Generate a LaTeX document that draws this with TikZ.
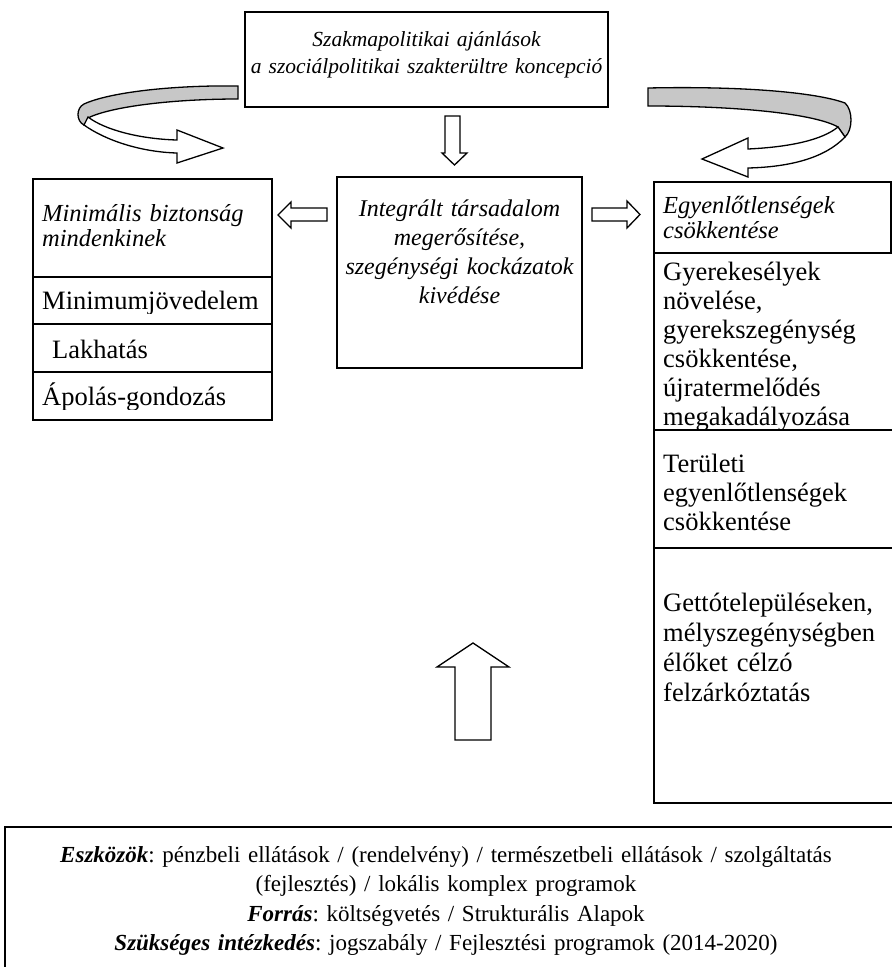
\documentclass[tikz,border=0pt]{standalone}
\usepackage{fontspec}
\setmainfont{Liberation Serif}
\usetikzlibrary{positioning}
\frenchspacing
\begin{document}
\begin{tikzpicture}[x=1pt, y=-1pt, line join=miter,
  frame/.style={draw, line width=1.4pt},
  cell text/.style={inner sep=0pt, anchor=base west, align=left, font=\fontsize{26.5}{26}\selectfont},
  head text/.style={cell text, font=\fontsize{24.5}{25}\selectfont\itshape},
  centre text/.style={inner sep=0pt, anchor=base, align=center, font=\fontsize{24}{29}\selectfont\itshape},
  block arrow/.style={draw, line width=1.3pt, fill=white},
  back side/.style={draw, line width=1.3pt, fill=black!22}]
\useasboundingbox (0,0) rectangle (892,967);

% frames
\draw[frame] (245,12) rectangle (608,107);
\draw[frame] (337,177) rectangle (582,368);
\draw[frame] (33,179) rectangle (272,420);
\foreach \y in {277,324,372} \draw[frame] (33,\y) -- (272,\y);
\draw[frame] (654,182) rectangle (891,253);
\draw[frame] (654,253) -- (654,803) -- (892,803);
\foreach \y in {430,548} \draw[frame] (654,\y) -- (892,\y);
\draw[frame] (892,827) -- (5,827) -- (5,967);

% texts
\node[centre text, text width=360pt, font=\fontsize{21.5}{27.5}\selectfont\itshape] (policy) at (426.5,46) {Szakmapolitikai ajánlások\\a szociálpolitikai szakterültre koncepció};
\node[centre text, text width=240pt] (society) at (459.5,216) {Integrált társadalom\\megerősítése,\\szegénységi kockázatok\\kivédése};

\node[head text, text width=225pt] (minimal) at (42,221) {Minimális biztonság\\mindenkinek};
\begin{scope}
  \clip (33,277) rectangle (272,313);
  \node[cell text] (income) at (42,309) {Minimumjövedelem};
\end{scope}
\node[cell text] (housing) at (52,358) {Lakhatás};
\begin{scope}
  \clip (33,372) rectangle (272,409);
  \node[cell text] (care) at (42,405) {Ápolás-gondozás};
\end{scope}

\node[head text, text width=225pt] (inequal) at (663,213) {Egyenlőtlenségek\\csökkentése};
\node[cell text, text width=232pt, font=\fontsize{26.5}{29}\selectfont] (children) at (663,280) {Gyerekesélyek\\növelése,\\gyerekszegénység\\csökkentése,\\újratermelődés\\megakadályozása};
\node[cell text, text width=232pt, font=\fontsize{26.5}{29}\selectfont] (regions) at (663,472) {Területi\\egyenlőtlenségek\\csökkentése};
\node[cell text, text width=232pt, font=\fontsize{26.5}{30}\selectfont] (ghetto) at (663,611) {Gettótelepüléseken,\\mélyszegénységben\\élőket célzó\\felzárkóztatás};

\node[inner sep=0pt, anchor=base, align=center, text width=880pt, font=\fontsize{23}{29.5}\selectfont] (tools) at (446,862) {\textbf{\textit{Eszközök}}: pénzbeli ellátások / (rendelvény) / természetbeli ellátások / szolgáltatás\\(fejlesztés) / lokális komplex programok\\\textbf{\textit{Forrás}}: költségvetés / Strukturális Alapok\\\textbf{\textit{Szükséges intézkedés}}: jogszabály / Fejlesztési programok (2014-2020)};

% block arrows
\draw[block arrow] (445,116) -- (460,116) -- (460,153) -- (467,153) -- (454.5,165) -- (442,153) -- (445,153) -- cycle;
\draw[block arrow] (327,208) -- (291,208) -- (291,202) -- (278,215) -- (291,228) -- (291,221) -- (327,221) -- cycle;
\draw[block arrow] (592,208) -- (627,208) -- (627,201) -- (640,214.5) -- (627,228) -- (627,221) -- (592,221) -- cycle;
\draw[block arrow] (455,740) -- (455,667) -- (437,667) -- (473,643) -- (509,667) -- (491,667) -- (491,740) -- cycle;

% curved arrows
\draw[back side] (238,86) .. controls (175,85) and (110,92) .. (84,104) .. controls (76,108) and (76,121) .. (84,125) -- (90,117) .. controls (115,106) and (175,99) .. (238,99) -- cycle;
\draw[block arrow] (84,125) .. controls (105,140) and (140,152) .. (177,153) -- (177,163) -- (223,148) -- (177,130) -- (177,140) .. controls (140,139) and (105,130) .. (88,117) -- cycle;

\draw[back side] (648,88) .. controls (740,86) and (815,92) .. (845,103) .. controls (853,110) and (853,130) .. (845,137) -- (838,127) .. controls (815,114) and (740,106) .. (648,106) -- cycle;
\draw[block arrow] (845,137) .. controls (825,158) and (790,167) .. (748,168) -- (748,177) -- (702,159) -- (748,138) -- (748,149) .. controls (790,147) and (822,140) .. (838,127) -- cycle;
\end{tikzpicture}
\end{document}
